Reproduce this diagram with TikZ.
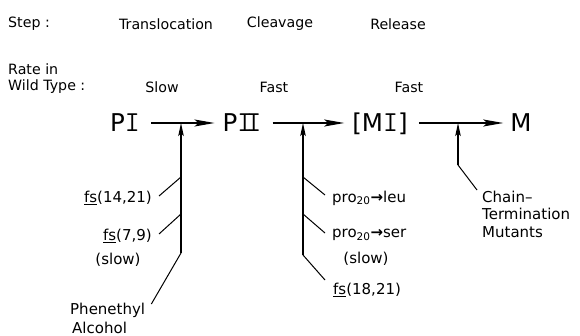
\documentclass[tikz,border=0pt]{standalone}
\usepackage{fontspec}
\setmainfont{DejaVu Sans}
\newfontfamily\romnum{Latin Modern Mono}
\usetikzlibrary{arrows.meta}
% Roman numerals drawn with slab-serif strokes
\newcommand{\numI}{{\romnum\fontsize{29}{29}\selectfont I}}
\newcommand{\numII}{{\romnum\fontsize{29}{29}\selectfont I\kern-6pt I}}
\begin{document}
\begin{tikzpicture}[x=1pt,y=-1pt,
  head/.style={font=\fontsize{14.2}{16}\selectfont, inner sep=0pt},
  lab/.style={font=\fontsize{15}{17.5}\selectfont, inner sep=0pt},
  species/.style={font=\fontsize{24.5}{28}\selectfont, inner sep=0pt,
    text height=18pt, text depth=0pt},
  flow/.style={line width=1.2pt, -{Stealth[length=20pt,width=7pt,inset=4pt]}},
  lever/.style={line width=1.3pt, -{Stealth[length=13pt,width=5.5pt,inset=2.5pt]}},
  tick/.style={line width=1pt}]
\useasboundingbox (0,0) rectangle (580,336);

% column headings
\node[head, anchor=west] (step) at (8,24) {Step :};
\node[head] (transl) at (166,24) {Translocation};
\node[head] (cleav) at (280,24) {Cleavage};
\node[head] (rel) at (398,24) {Release};
\node[head, anchor=west] (ratein) at (8,69) {Rate in};
\node[head, anchor=west] (wild) at (8,87) {Wild Type :};
\node[head] (slow) at (162,87) {Slow};
\node[head] (fastA) at (274,87) {Fast};
\node[head] (fastB) at (409,87) {Fast};

% precursor / product species
\node[species] (PI) at (125,123) {P\numI};
\node[species] (PII) at (242,123) {P\numII};
\node[species] (MI) at (380,123) {[M\numI]};
\node[species] (M) at (521,123) {M};

\draw[flow, shorten <=11pt, shorten >=8pt] (PI) -- (PII);
\draw[flow, shorten <=11pt, shorten >=8pt] (PII) -- (MI);
\draw[flow, shorten <=11pt, shorten >=7pt] (MI) -- (M);

% translocation step: effectors
\coordinate (j1) at (181,123);
\coordinate (b1) at (181,253);
\coordinate (k1a) at (181,177);
\coordinate (k1b) at (181,214);
\draw[lever] (b1) -- (j1);
\node[lab, anchor=east] (fsA) at (152,198) {\underline{fs}(14,21)};
\node[lab, anchor=east] (fsB) at (152,236) {\underline{fs}(7,9)};
\node[lab] (slowA) at (118,260) {(slow)};
\node[lab, anchor=west] (phen) at (70,310) {Phenethyl};
\node[lab, anchor=west] (alc) at (72,328) {Alcohol};
\draw[tick] ([shift={(7,-2)}]fsA.east) -- (k1a);
\draw[tick] ([shift={(7,-2)}]fsB.east) -- (k1b);
\draw[tick] ([shift={(6,-6)}]phen.east) -- (b1);

% cleavage step: effectors
\coordinate (j2) at (303,123);
\coordinate (b2) at (303,255);
\coordinate (k2a) at (303,177);
\coordinate (k2b) at (303,214);
\draw[lever] (b2) -- (j2);
\node[lab, anchor=west] (leu) at (332,198) {pro\textsubscript{20}{\bfseries →}leu};
\node[lab, anchor=west] (ser) at (332,235) {pro\textsubscript{20}{\bfseries →}ser};
\node[lab] (slowB) at (366,259) {(slow)};
\node[lab, anchor=west] (fsC) at (333,290) {\underline{fs}(18,21)};
\draw[tick] ([shift={(-7,-3)}]leu.west) -- (k2a);
\draw[tick] ([shift={(-7,-2)}]ser.west) -- (k2b);
\draw[tick] ([shift={(-8,-10)}]fsC.west) -- (b2);

% release step: effector
\coordinate (j3) at (458,123);
\coordinate (b3) at (458,165);
\draw[lever] (b3) -- (j3);
\node[lab, anchor=west] (chainA) at (482,197) {Chain–};
\node[lab, anchor=west] (chainB) at (482,214) {Termination};
\node[lab, anchor=west] (chainC) at (482,232) {Mutants};
\draw[tick] ([shift={(-5,-7)}]chainA.west) -- (b3);
\end{tikzpicture}
\end{document}
